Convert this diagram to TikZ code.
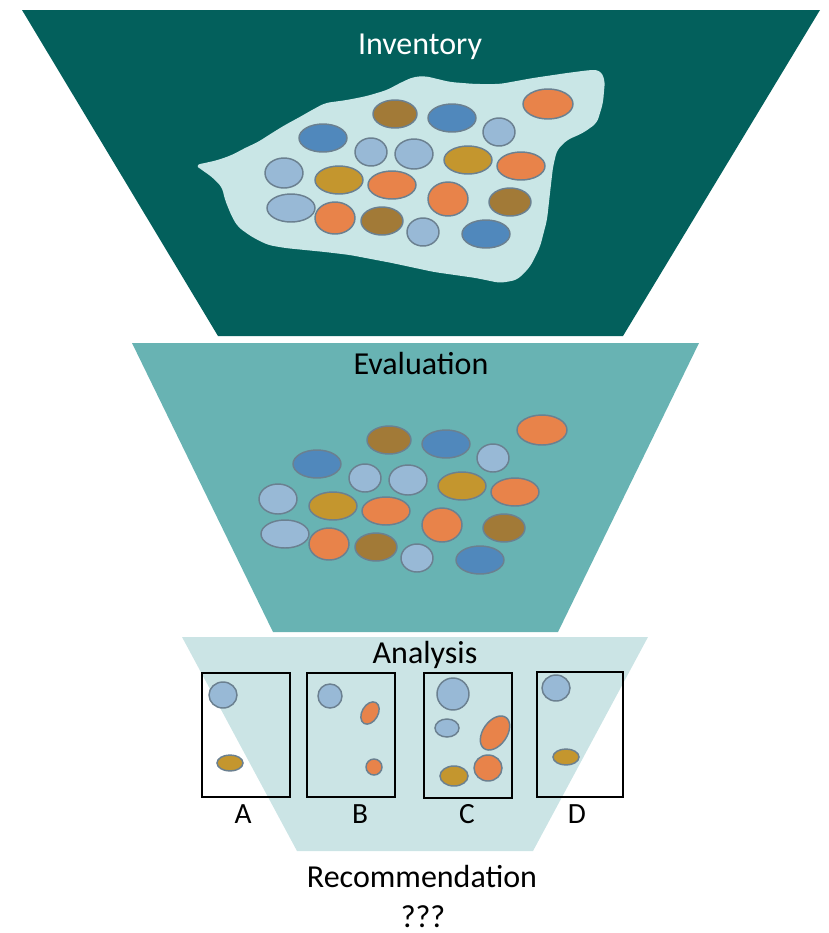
\documentclass[tikz,border=0pt]{standalone}
\usepackage{fontspec}
\setmainfont{Carlito}
\definecolor{deepteal}{HTML}{03605C}
\definecolor{midteal}{HTML}{68B3B3}
\definecolor{paleteal}{HTML}{CBE4E5}
\definecolor{pool}{HTML}{C9E6E6}
\definecolor{rust}{HTML}{E8834A}
\definecolor{bronze}{HTML}{A27A37}
\definecolor{ochre}{HTML}{C4962E}
\definecolor{steel}{HTML}{5088BC}
\definecolor{sky}{HTML}{98B9D6}
\definecolor{rim}{HTML}{6B8090}
\newcommand{\pebbles}{%
\foreach \px/\py/\rx/\ry/\pc in {395/114/22/14/bronze, 452/118/24/14/steel, 548/104/25/15/rust,
  499/132/16/14/sky, 323/138/24/14/steel, 371/152/16/14/sky, 414/154/19/15/sky,
  468/160/24/14/ochre, 521/166/24/14/rust, 284/173/19/15/sky, 339/180/24/14/ochre,
  392/185/24/14/rust, 448/199/20/17/rust, 510/202/21/14/bronze, 291/208/24/14/sky,
  335/218/20/16/rust, 382/221/21/14/bronze, 423/232/16/14/sky, 486/234/24/14/steel}
  \draw [pebble, fill=\pc] (\px,\py) ellipse [x radius=\rx, y radius=\ry];}
\begin{document}
\begin{tikzpicture}[x=0.75pt, y=-0.75pt,
  pebble/.style={draw=rim, line width=1.1pt},
  stage/.style={font=\fontsize{24}{28}\selectfont, anchor=base},
  letter/.style={font=\fontsize{22}{26}\selectfont, anchor=base},
  bin/.style={draw=black, line width=0.8pt}]
\useasboundingbox (0,0) rectangle (829,933);
\fill [deepteal] (22,10) -- (820,10) -- (623,336) -- (218,336) -- cycle;
\fill [pool, rounded corners=4pt] (195,165) -- (205,163) -- (218,160) -- (232,155) -- (245,148)
  -- (258,142) -- (272,133) -- (285,125) -- (298,118) -- (312,110) -- (325,103) -- (347,100)
  -- (367,96) -- (387,90) -- (400,83) -- (413,77) -- (425,76) -- (450,82) -- (475,84) -- (500,84)
  -- (533,78) -- (567,73) -- (590,70) -- (600,70) -- (605,80) -- (603,103) -- (597,123)
  -- (583,133) -- (567,140) -- (557,150) -- (553,167) -- (550,193) -- (547,220) -- (540,247)
  -- (530,267) -- (517,280) -- (500,283) -- (476,278) -- (434,272) -- (392,263) -- (350,255)
  -- (325,252) -- (305,250) -- (285,248) -- (268,245) -- (252,237) -- (238,227) -- (232,217)
  -- (225,200) -- (222,187) -- (212,177) -- (202,170) -- cycle;
\pebbles
\node (inventory) at (420,54) [stage, white] {Inventory};
\fill [midteal] (132,343) -- (699,343) -- (558,632) -- (273,632) -- cycle;
\begin{scope}[shift={(-6,326)}]
\pebbles
\end{scope}
\node (evaluation) at (421,374) [stage] {Evaluation};
\fill [paleteal] (182,637) -- (648,637) -- (533,851) -- (297,851) -- cycle;
\node (analysis) at (425,663) [stage] {Analysis};
\draw [bin] (202,673) rectangle (290,797);
\draw [bin] (307,673) rectangle (395,797);
\draw [bin] (424,673) rectangle (512,798);
\draw [bin] (537,672) rectangle (623,797);
\draw [pebble, fill=sky] (223,695) ellipse [x radius=14, y radius=13];
\draw [pebble, fill=ochre] (230,763) ellipse [x radius=13, y radius=8];
\draw [pebble, fill=sky] (330,696) ellipse [x radius=12, y radius=12];
\draw [pebble, fill=rust, rotate around={-30:(370,713)}] (370,713) ellipse [x radius=8, y radius=12];
\draw [pebble, fill=rust] (374,767) ellipse [x radius=8, y radius=8];
\draw [pebble, fill=sky] (453,694) ellipse [x radius=16, y radius=16];
\draw [pebble, fill=sky] (447,728) ellipse [x radius=12, y radius=9];
\draw [pebble, fill=rust, rotate around={-35:(495,733)}] (495,733) ellipse [x radius=12, y radius=19];
\draw [pebble, fill=ochre] (454,776) ellipse [x radius=14, y radius=10];
\draw [pebble, fill=rust] (488,768) ellipse [x radius=14, y radius=13];
\draw [pebble, fill=sky] (556,688) ellipse [x radius=14, y radius=13];
\draw [pebble, fill=ochre] (566,757) ellipse [x radius=13, y radius=8];
\node (labA) at (243,823) [letter] {A};
\node (labB) at (360,823) [letter] {B};
\node (labC) at (467,823) [letter] {C};
\node (labD) at (577,823) [letter] {D};
\node (recommendation) at (422,887) [stage] {Recommendation};
\node (open) at (423,927) [stage, inner sep=1pt] {???};
\end{tikzpicture}
\end{document}
